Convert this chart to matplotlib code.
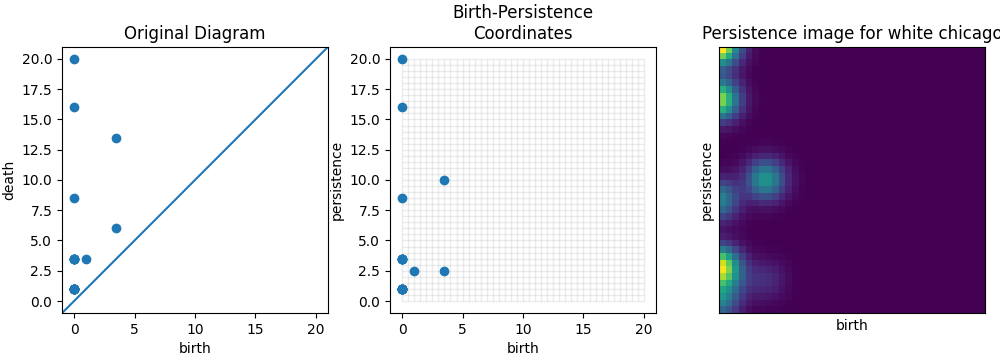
import numpy as np
import matplotlib
matplotlib.use('Agg')
import matplotlib.pyplot as plt
from math import erf

# persistence diagram (H0)
birth = [0, 0, 0, 0, 0, 1, 3.5, 3.5]
death = [1, 3.5, 8.5, 16, 20, 3.5, 6, 13.5]
# estimated multiplicity of each point (duplicates stack in the image)
mult = [8, 5, 1, 1, 1, 1, 1, 1]

pixel_size = 0.5
birth_range = (0, 20)
pers_range = (0, 20)
sigma = 1.0

persistence = [d - b for b, d in zip(birth, death)]

# persistence image: gaussian kernel integrated over pixels, linear weight on persistence
xe = np.arange(birth_range[0], birth_range[1] + pixel_size / 2, pixel_size)
ye = np.arange(pers_range[0], pers_range[1] + pixel_size / 2, pixel_size)
verf = np.vectorize(erf)
img = np.zeros((len(ye) - 1, len(xe) - 1))
for b, p, m in zip(birth, persistence, mult):
    cx = 0.5 * verf((xe - b) / (sigma * np.sqrt(2)))
    cy = 0.5 * verf((ye - p) / (sigma * np.sqrt(2)))
    img += m * p * np.outer(np.diff(cy), np.diff(cx))

# duplicated points get drawn on top of each other
b_all = np.repeat(birth, mult)
d_all = np.repeat(death, mult)
p_all = np.repeat(persistence, mult)

fig = plt.figure(figsize=(10, 3.55), dpi=100)
ax1 = fig.add_axes([0.062, 0.118, 0.266, 0.75])
ax2 = fig.add_axes([0.390, 0.118, 0.266, 0.75])
ax3 = fig.add_axes([0.719, 0.118, 0.266, 0.75])

lo, hi = -1, 21

# original diagram
ax1.scatter(b_all, d_all)
ax1.plot([lo, hi], [lo, hi])
ax1.set_xlim(lo, hi)
ax1.set_ylim(lo, hi)
ax1.set_xticks([0, 5, 10, 15, 20])
ax1.set_yticks(np.arange(0, 20.1, 2.5))
ax1.set_xlabel('birth')
ax1.set_ylabel('death')
ax1.set_title('Original Diagram')

# birth-persistence with pixel grid
ax2.vlines(xe, pers_range[0], pers_range[1], colors='gray', alpha=0.15, lw=1)
ax2.hlines(ye, birth_range[0], birth_range[1], colors='gray', alpha=0.15, lw=1)
ax2.scatter(b_all, p_all, zorder=3)
ax2.set_xlim(lo, hi)
ax2.set_ylim(lo, hi)
ax2.set_xticks([0, 5, 10, 15, 20])
ax2.set_yticks(np.arange(0, 20.1, 2.5))
ax2.set_xlabel('birth')
ax2.set_ylabel('persistence')
ax2.set_title('Birth-Persistence\nCoordinates')

# persistence image
ax3.imshow(img, origin='lower', cmap='viridis', extent=(0, 20, 0, 20))
ax3.set_xticks([])
ax3.set_yticks([])
ax3.set_xlabel('birth')
ax3.set_ylabel('persistence')
ax3.set_title('Persistence image for white chicago')

fig.savefig('out.png', dpi=100)
